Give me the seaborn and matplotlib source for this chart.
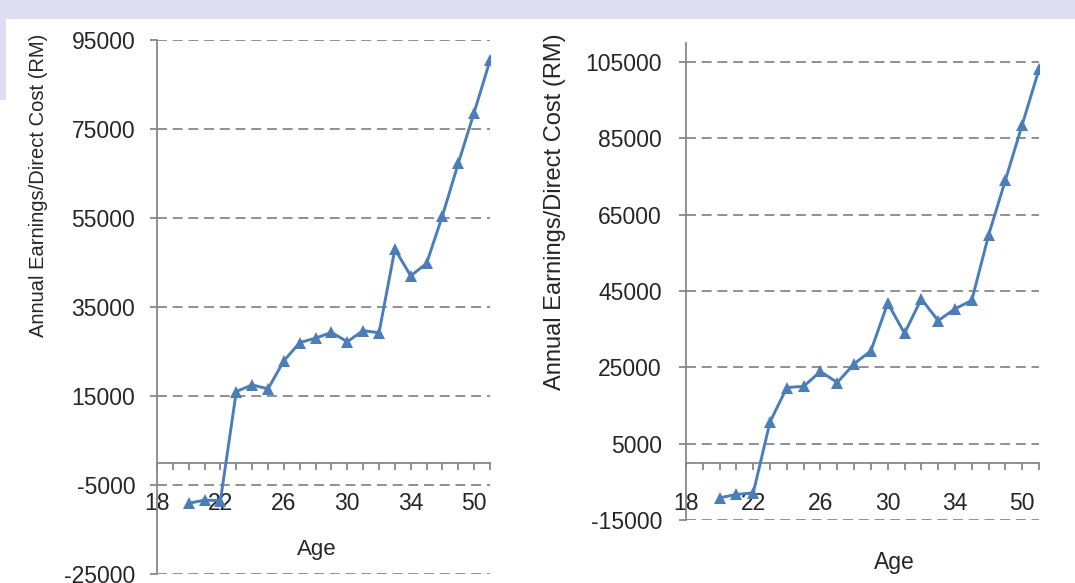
import matplotlib
matplotlib.use("Agg")
import matplotlib.pyplot as plt
from matplotlib.patches import Rectangle
import seaborn as sns
import pandas as pd

# ---- data ----
age_categories = [18, 19, 20, 21, 22, 23, 24, 25, 26, 27, 28, 29, 30, 31, 32,
                  33, 34, 35, 40, 45, 50, 55]
shown_labels = [18, 22, 26, 30, 34, 50]
ages_observed = age_categories[2:]
left_values = [-9100, -8400, -8500, 16000, 17500, 16600, 22900, 27000, 28000,
               29300, 27200, 29700, 29200, 48000, 42000, 44800, 55500, 67300,
               78700, 90400]
right_values = [-9200, -8300, -7900, 10700, 19700, 20000, 23900, 21000, 25900,
                29300, 41800, 33900, 42900, 37200, 40300, 42500, 59600, 74000,
                88500, 103000]
left_yticks = [-25000, -5000, 15000, 35000, 55000, 75000, 95000]
right_yticks = [-15000, 5000, 25000, 45000, 65000, 85000, 105000]
y_label = "Annual Earnings/Direct Cost (RM)"
x_label = "Age"

sns.set_style("white")
plt.rcParams["font.family"] = ["Liberation Sans", "DejaVu Sans"]

W, H = 1075, 583
fig = plt.figure(figsize=(W / 100, H / 100), dpi=100)
fig.patch.set_facecolor("white")

# faint slide background strips
fig.patches.append(Rectangle((0, 1 - 19 / H), 1, 19 / H, transform=fig.transFigure,
                             facecolor="#dfddf2", edgecolor="none", zorder=0))
fig.patches.append(Rectangle((0, 1 - 100 / H), 6 / W, 100 / H, transform=fig.transFigure,
                             facecolor="#dfddf2", edgecolor="none", zorder=0))

grey = "#888888"
blue = "#4a7ebb"


def px_axes(x0, x1, ytop, ybot):
    return fig.add_axes([x0 / W, 1 - ybot / H, (x1 - x0) / W, (ybot - ytop) / H])


def draw(ax, values, yticks, ylim, ypad):
    df = pd.DataFrame({
        "pos": [age_categories.index(a) for a in ages_observed],
        "value": values,
    })
    sns.lineplot(data=df, x="pos", y="value", ax=ax, color=blue, linewidth=2.1,
                 marker="^", markersize=8, markeredgewidth=0, zorder=5)
    ax.set_xlim(0, len(age_categories) - 1)
    ax.set_ylim(*ylim)
    ax.set_facecolor("white")
    for s in ["top", "right"]:
        ax.spines[s].set_visible(False)
    ax.spines["bottom"].set_position(("data", 0))
    for s in ["left", "bottom"]:
        ax.spines[s].set_color(grey)
        ax.spines[s].set_linewidth(1.3)
    ax.set_yticks(yticks)
    ax.set_yticklabels([str(v) for v in yticks])
    ax.yaxis.grid(True, linestyle=(0, (5.5, 3.2)), color=grey, linewidth=1.3)
    ax.xaxis.grid(False)
    ax.set_xticks(range(len(age_categories)))
    ax.set_xticklabels([str(a) if a in shown_labels else "" for a in age_categories])
    ax.tick_params(axis="x", direction="out", length=5, width=1.3, color=grey,
                   pad=16, labelsize=16.5, bottom=True)
    ax.tick_params(axis="y", direction="out", length=5, width=1.3, color=grey,
                   pad=ypad, labelsize=16.5, left=True)
    ax.set_xlabel("")
    ax.set_ylabel("")


ax1 = px_axes(157, 490, 40, 574)
draw(ax1, left_values, left_yticks, (-25000, 95000), 10.6)

ax2 = px_axes(686, 1039, 42.7, 520)
draw(ax2, right_values, right_yticks, (-15000, 110000), 12.3)

fig.text(38.5 / W, 1 - 185 / H, y_label, rotation=90, ha="center", va="center",
         fontsize=14.5)
fig.text(555 / W, 1 - 211.5 / H, y_label, rotation=90, ha="center", va="center",
         fontsize=17)
fig.text(317 / W, 1 - 550 / H, x_label, ha="center", va="center", fontsize=16)
fig.text(894.5 / W, 1 - 563 / H, x_label, ha="center", va="center", fontsize=16.5)

fig.savefig("out.png", dpi=100)
